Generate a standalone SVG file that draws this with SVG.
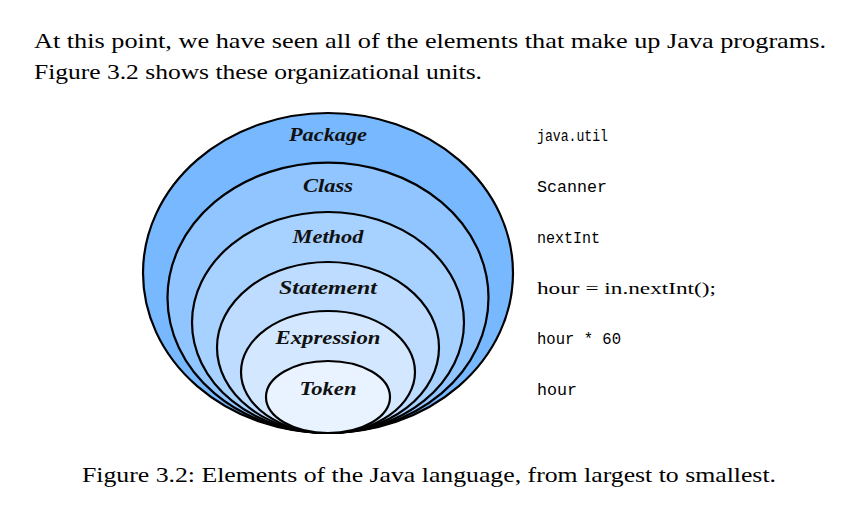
<svg xmlns="http://www.w3.org/2000/svg" width="863" height="508" viewBox="0 0 863 508">
<style>
.body{font-family:"Liberation Serif","DejaVu Serif",serif;font-size:21px;fill:#000}
.lvl{stroke:#000;stroke-width:2.2}
.lbl{font-family:"Liberation Serif","DejaVu Serif",serif;font-size:18px;font-weight:bold;font-style:italic;text-anchor:middle;fill:#111}
.mono{font-family:"Liberation Mono","DejaVu Sans Mono",monospace;font-size:16px;fill:#000}
.rom{font-family:"Liberation Serif","DejaVu Serif",serif;font-size:16.5px;fill:#000}
</style>
<rect width="863" height="508" fill="#fff"/>
<text class="body" x="34" y="48" textLength="792" lengthAdjust="spacingAndGlyphs">At this point, we have seen all of the elements that make up Java programs.</text>
<text class="body" x="34" y="79" textLength="448" lengthAdjust="spacingAndGlyphs">Figure 3.2 shows these organizational units.</text>
<g id="package"><ellipse class="lvl" cx="328" cy="273" rx="185" ry="160" fill="#78b8ff"/><text class="lbl" x="328" y="141" textLength="78" lengthAdjust="spacingAndGlyphs">Package</text></g>
<g id="class"><ellipse class="lvl" cx="328" cy="297.8" rx="160.5" ry="135.2" fill="#90c5ff"/><text class="lbl" x="328" y="192" textLength="50" lengthAdjust="spacingAndGlyphs">Class</text></g>
<g id="method"><ellipse class="lvl" cx="328" cy="322.5" rx="136" ry="110.5" fill="#a7d1ff"/><text class="lbl" x="328" y="243" textLength="71" lengthAdjust="spacingAndGlyphs">Method</text></g>
<g id="statement"><ellipse class="lvl" cx="328" cy="347.5" rx="111" ry="85.5" fill="#bddcff"/><text class="lbl" x="328" y="294" textLength="98" lengthAdjust="spacingAndGlyphs">Statement</text></g>
<g id="expression"><ellipse class="lvl" cx="328" cy="372" rx="87" ry="61" fill="#d3e8ff"/><text class="lbl" x="328" y="344" textLength="105" lengthAdjust="spacingAndGlyphs">Expression</text></g>
<g id="token"><ellipse class="lvl" cx="328" cy="397" rx="62" ry="36" fill="#e8f3ff"/><text class="lbl" x="328" y="395" textLength="57" lengthAdjust="spacingAndGlyphs">Token</text></g>
<g id="examples">
<text class="mono" x="537" y="141" textLength="71" lengthAdjust="spacingAndGlyphs">java.util</text>
<text class="mono" x="537" y="192" textLength="70" lengthAdjust="spacingAndGlyphs">Scanner</text>
<text class="mono" x="537" y="243" textLength="63" lengthAdjust="spacingAndGlyphs">nextInt</text>
<text class="rom" x="537" y="294" textLength="179" lengthAdjust="spacingAndGlyphs">hour = in.nextInt();</text>
<text class="mono" x="537" y="344" textLength="84" lengthAdjust="spacingAndGlyphs">hour * 60</text>
<text class="mono" x="537" y="395" textLength="40" lengthAdjust="spacingAndGlyphs">hour</text>
</g>
<g id="connectors"/>
<text class="body" x="82" y="482" textLength="694" lengthAdjust="spacingAndGlyphs">Figure 3.2: Elements of the Java language, from largest to smallest.</text>
</svg>
